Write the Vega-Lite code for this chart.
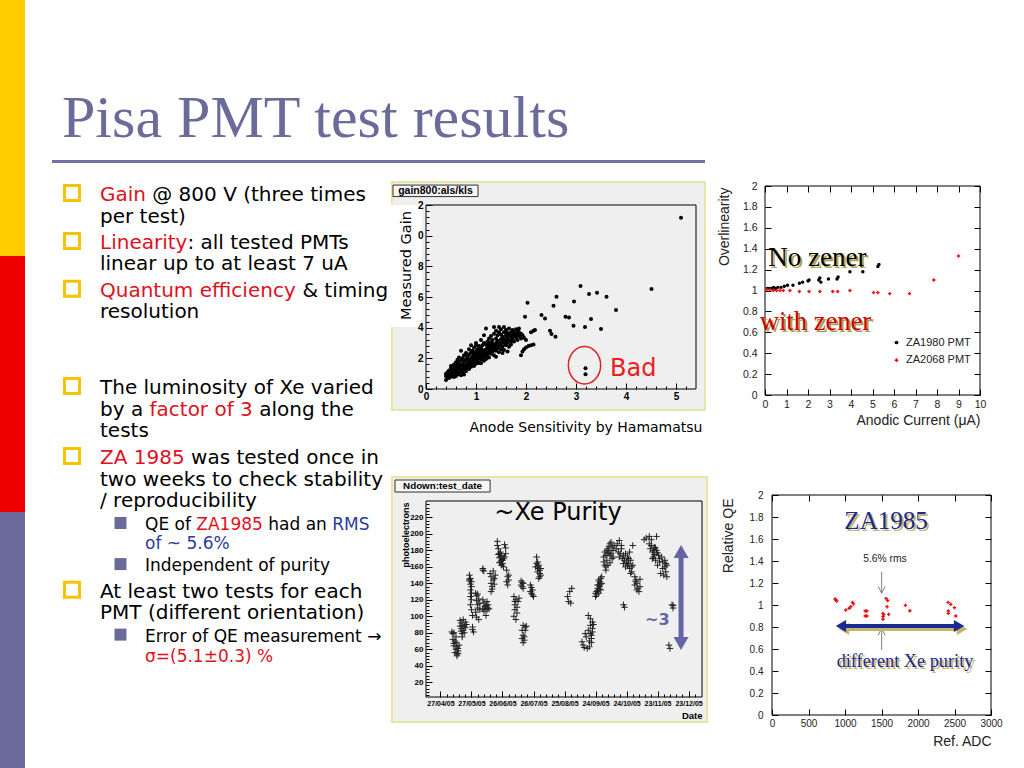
{
"$schema":"https://vega.github.io/schema/vega-lite/v6.json",
"width":1024,"height":768,"padding":0,"autosize":{"type":"none"},"background":"#ffffff",
"config":{"view":{"stroke":null},"axis":{"grid":false,"domain":false}},
"datasets":{
"bar":[{"band":"a"},{"band":"b"},{"band":"c"}],
"lines":[
{"line":0,"indent":0,"tone":"accent","part":"0","text":"Gain"},
{"line":1.01,"indent":0,"tone":"plain","part":"0","text":"per test)"},
{"line":2.23,"indent":0,"tone":"accent","part":"0","text":"Linearity"},
{"line":3.21,"indent":0,"tone":"plain","part":"0","text":"linear up to at least 7 uA"},
{"line":4.45,"indent":0,"tone":"accent","part":"0","text":"Quantum efficiency"},
{"line":5.43,"indent":0,"tone":"plain","part":"0","text":"resolution"},
{"line":8.98,"indent":0,"tone":"plain","part":"0","text":"The luminosity of Xe varied"},
{"line":10.0,"indent":0,"tone":"plain","part":"0","text":"by a"},
{"line":11.0,"indent":0,"tone":"plain","part":"0","text":"tests"},
{"line":12.23,"indent":0,"tone":"accent","part":"0","text":"ZA 1985"},
{"line":13.26,"indent":0,"tone":"plain","part":"0","text":"two weeks to check stability"},
{"line":14.23,"indent":0,"tone":"plain","part":"0","text":"/ reproducibility"},
{"line":15.35,"indent":1,"tone":"plain","part":"0","text":"QE of"},
{"line":16.23,"indent":1,"tone":"note","part":"0","text":"of ~ 5.6%"},
{"line":17.26,"indent":1,"tone":"plain","part":"0","text":"Independent of purity"},
{"line":18.45,"indent":0,"tone":"plain","part":"0","text":"At least two tests for each"},
{"line":19.42,"indent":0,"tone":"plain","part":"0","text":"PMT (different orientation)"},
{"line":20.54,"indent":1,"tone":"plain","part":"0","text":"Error of QE measurement →"},
{"line":21.47,"indent":1,"tone":"accent","part":"0","text":"σ=(5.1±0.3) %"},
{"line":0,"indent":0,"tone":"plain","part":"b","text":"@ 800 V (three times"},
{"line":2.23,"indent":0,"tone":"plain","part":"c","text":": all tested PMTs"},
{"line":4.45,"indent":0,"tone":"plain","part":"d","text":"& timing"},
{"line":10.0,"indent":0,"tone":"accent","part":"e","text":"factor of 3"},
{"line":10.0,"indent":0,"tone":"plain","part":"f","text":"along the"},
{"line":12.23,"indent":0,"tone":"plain","part":"g","text":"was tested once in"},
{"line":15.35,"indent":1,"tone":"accent","part":"h","text":"ZA1985"},
{"line":15.35,"indent":1,"tone":"plain","part":"i","text":"had an"},
{"line":15.35,"indent":1,"tone":"note","part":"j","text":"RMS"}
],
"bullets":[
{"line":0,"indent":0},{"line":2.23,"indent":0},{"line":4.45,"indent":0},{"line":8.98,"indent":0},{"line":12.23,"indent":0},{"line":18.45,"indent":0},
{"line":15.35,"indent":1},{"line":17.26,"indent":1},{"line":20.54,"indent":1}
],
"gain":[
{"sens":0.40,"gain":0.58},{"sens":0.40,"gain":0.85},{"sens":0.40,"gain":1.0},
{"sens":0.43,"gain":0.75},{"sens":0.43,"gain":1.1},{"sens":0.43,"gain":0.9},
{"sens":0.46,"gain":1.2},{"sens":0.46,"gain":0.95},{"sens":0.46,"gain":0.72},
{"sens":0.50,"gain":1.35},{"sens":0.50,"gain":1.05},{"sens":0.50,"gain":0.8},{"sens":0.50,"gain":1.5},
{"sens":0.53,"gain":1.15},{"sens":0.53,"gain":0.9},{"sens":0.53,"gain":1.4},
{"sens":0.56,"gain":1.0},{"sens":0.56,"gain":1.3},{"sens":0.56,"gain":1.6},{"sens":0.56,"gain":0.78},
{"sens":0.60,"gain":1.45},{"sens":0.60,"gain":1.2},{"sens":0.60,"gain":0.85},{"sens":0.60,"gain":1.75},{"sens":0.60,"gain":1.05},
{"sens":0.63,"gain":1.3},{"sens":0.63,"gain":1.55},{"sens":0.63,"gain":0.95},{"sens":0.63,"gain":1.9},
{"sens":0.66,"gain":1.1},{"sens":0.66,"gain":1.4},{"sens":0.66,"gain":1.7},{"sens":0.66,"gain":2.05},
{"sens":0.70,"gain":1.25},{"sens":0.70,"gain":1.55},{"sens":0.70,"gain":0.9},{"sens":0.70,"gain":1.85},{"sens":0.70,"gain":2.5},
{"sens":0.73,"gain":1.35},{"sens":0.73,"gain":1.6},{"sens":0.73,"gain":1.1},{"sens":0.73,"gain":2.0},
{"sens":0.76,"gain":1.5},{"sens":0.76,"gain":1.2},{"sens":0.76,"gain":1.8},{"sens":0.76,"gain":2.2},{"sens":0.76,"gain":0.95},
{"sens":0.80,"gain":1.6},{"sens":0.80,"gain":1.35},{"sens":0.80,"gain":1.95},{"sens":0.80,"gain":2.35},{"sens":0.80,"gain":1.15},
{"sens":0.83,"gain":1.7},{"sens":0.83,"gain":1.45},{"sens":0.83,"gain":2.1},{"sens":0.83,"gain":1.9},
{"sens":0.86,"gain":1.55},{"sens":0.86,"gain":1.85},{"sens":0.86,"gain":2.25},{"sens":0.86,"gain":2.6},{"sens":0.86,"gain":1.3},
{"sens":0.90,"gain":1.7},{"sens":0.90,"gain":2.0},{"sens":0.90,"gain":2.4},{"sens":0.90,"gain":1.45},{"sens":0.90,"gain":2.85},
{"sens":0.93,"gain":1.9},{"sens":0.93,"gain":2.15},{"sens":0.93,"gain":1.6},{"sens":0.93,"gain":2.5},
{"sens":0.96,"gain":2.05},{"sens":0.96,"gain":1.75},{"sens":0.96,"gain":2.3},{"sens":0.96,"gain":2.7},{"sens":0.96,"gain":1.5},
{"sens":1.00,"gain":1.9},{"sens":1.00,"gain":2.2},{"sens":1.00,"gain":2.45},{"sens":1.00,"gain":1.65},{"sens":1.00,"gain":2.85},{"sens":1.00,"gain":3.0},
{"sens":1.03,"gain":2.1},{"sens":1.03,"gain":2.35},{"sens":1.03,"gain":1.8},{"sens":1.03,"gain":2.6},
{"sens":1.06,"gain":2.0},{"sens":1.06,"gain":2.25},{"sens":1.06,"gain":2.5},{"sens":1.06,"gain":1.7},{"sens":1.06,"gain":2.8},
{"sens":1.10,"gain":2.15},{"sens":1.10,"gain":2.4},{"sens":1.10,"gain":1.9},{"sens":1.10,"gain":2.65},{"sens":1.10,"gain":3.2},{"sens":1.10,"gain":1.68},
{"sens":1.13,"gain":2.3},{"sens":1.13,"gain":2.55},{"sens":1.13,"gain":2.05},{"sens":1.13,"gain":2.85},
{"sens":1.16,"gain":2.2},{"sens":1.16,"gain":2.45},{"sens":1.16,"gain":3.0},{"sens":1.16,"gain":1.85},{"sens":1.16,"gain":3.5},
{"sens":1.20,"gain":2.35},{"sens":1.20,"gain":2.6},{"sens":1.20,"gain":2.1},{"sens":1.20,"gain":2.9},{"sens":1.20,"gain":3.95},{"sens":1.20,"gain":1.95},
{"sens":1.23,"gain":2.5},{"sens":1.23,"gain":2.75},{"sens":1.23,"gain":2.25},{"sens":1.23,"gain":3.1},
{"sens":1.26,"gain":2.4},{"sens":1.26,"gain":2.65},{"sens":1.26,"gain":2.9},{"sens":1.26,"gain":3.3},{"sens":1.26,"gain":2.05},
{"sens":1.30,"gain":2.55},{"sens":1.30,"gain":2.8},{"sens":1.30,"gain":3.05},{"sens":1.30,"gain":2.3},{"sens":1.30,"gain":3.45},
{"sens":1.33,"gain":2.7},{"sens":1.33,"gain":2.45},{"sens":1.33,"gain":3.2},{"sens":1.33,"gain":2.95},
{"sens":1.36,"gain":2.6},{"sens":1.36,"gain":2.85},{"sens":1.36,"gain":3.6},{"sens":1.36,"gain":4.05},{"sens":1.36,"gain":2.2},
{"sens":1.40,"gain":2.75},{"sens":1.40,"gain":3.0},{"sens":1.40,"gain":3.3},{"sens":1.40,"gain":2.5},{"sens":1.40,"gain":3.8},{"sens":1.40,"gain":2.1},
{"sens":1.43,"gain":2.9},{"sens":1.43,"gain":3.15},{"sens":1.43,"gain":2.65},{"sens":1.43,"gain":3.5},
{"sens":1.46,"gain":2.8},{"sens":1.46,"gain":3.05},{"sens":1.46,"gain":3.7},{"sens":1.46,"gain":4.05},{"sens":1.46,"gain":2.4},
{"sens":1.50,"gain":2.95},{"sens":1.50,"gain":3.25},{"sens":1.50,"gain":2.6},{"sens":1.50,"gain":3.55},{"sens":1.50,"gain":3.9},
{"sens":1.53,"gain":3.1},{"sens":1.53,"gain":2.75},{"sens":1.53,"gain":3.4},{"sens":1.53,"gain":2.35},
{"sens":1.56,"gain":3.0},{"sens":1.56,"gain":3.3},{"sens":1.56,"gain":3.7},{"sens":1.56,"gain":4.05},{"sens":1.56,"gain":2.55},
{"sens":1.60,"gain":3.15},{"sens":1.60,"gain":2.85},{"sens":1.60,"gain":3.5},{"sens":1.60,"gain":3.85},
{"sens":1.63,"gain":3.35},{"sens":1.63,"gain":3.0},{"sens":1.63,"gain":3.65},{"sens":1.63,"gain":2.45},
{"sens":1.66,"gain":3.2},{"sens":1.66,"gain":3.55},{"sens":1.66,"gain":2.75},{"sens":1.66,"gain":3.95},
{"sens":1.70,"gain":3.4},{"sens":1.70,"gain":3.7},{"sens":1.70,"gain":3.1},{"sens":1.70,"gain":2.9},
{"sens":1.73,"gain":3.55},{"sens":1.73,"gain":3.25},{"sens":1.73,"gain":3.85},
{"sens":1.76,"gain":3.45},{"sens":1.76,"gain":3.7},{"sens":1.76,"gain":3.1},
{"sens":1.80,"gain":3.6},{"sens":1.80,"gain":3.35},{"sens":1.80,"gain":3.9},
{"sens":1.83,"gain":3.5},{"sens":1.83,"gain":3.8},{"sens":1.83,"gain":3.2},
{"sens":1.86,"gain":3.7},{"sens":1.86,"gain":3.45},{"sens":1.86,"gain":3.95},
{"sens":1.90,"gain":3.6},{"sens":1.90,"gain":3.3},{"sens":1.90,"gain":2.2},
{"sens":1.93,"gain":3.5},{"sens":1.93,"gain":2.45},
{"sens":1.96,"gain":3.35},{"sens":1.96,"gain":2.6},
{"sens":2.00,"gain":2.7},{"sens":2.00,"gain":3.2},
{"sens":2.05,"gain":2.8},
{"sens":2.10,"gain":3.7},{"sens":2.10,"gain":2.85},
{"sens":2.15,"gain":3.8},{"sens":2.15,"gain":2.9},
{"sens":2.18,"gain":3.85},
{"sens":2.03,"gain":5.63},{"sens":1.98,"gain":4.72},{"sens":2.31,"gain":4.83},{"sens":2.38,"gain":4.6},{"sens":2.48,"gain":3.8},{"sens":2.51,"gain":3.59},{"sens":2.59,"gain":3.41},{"sens":2.55,"gain":5.43},{"sens":2.61,"gain":6.02},{"sens":2.79,"gain":4.72},{"sens":2.86,"gain":4.67},{"sens":2.95,"gain":4.13},{"sens":2.96,"gain":5.7},{"sens":3.09,"gain":6.72},{"sens":3.18,"gain":4.04},{"sens":3.26,"gain":6.2},{"sens":3.3,"gain":4.57},{"sens":3.42,"gain":6.28},{"sens":3.5,"gain":3.91},{"sens":3.61,"gain":6.02},{"sens":3.8,"gain":5.15},{"sens":4.51,"gain":6.52},{"sens":5.1,"gain":11.17},{"sens":3.19,"gain":1.35},{"sens":3.19,"gain":0.96}
],
"xe":[
{"date":"2005-05-08","pe":81},{"date":"2005-05-09","pe":79},{"date":"2005-05-10","pe":80},{"date":"2005-05-09","pe":72},{"date":"2005-05-11","pe":70},{"date":"2005-05-10","pe":67},{"date":"2005-05-12","pe":75},{"date":"2005-05-13","pe":63},{"date":"2005-05-12","pe":60},{"date":"2005-05-14","pe":61},{"date":"2005-05-11","pe":56},{"date":"2005-05-13","pe":54},{"date":"2005-05-14","pe":58},{"date":"2005-05-15","pe":65},{"date":"2005-05-12","pe":68},{"date":"2005-05-10","pe":64},{"date":"2005-05-13","pe":52},{"date":"2005-05-14","pe":55},
{"date":"2005-05-16","pe":95},{"date":"2005-05-17","pe":92},{"date":"2005-05-18","pe":89},{"date":"2005-05-17","pe":85},{"date":"2005-05-19","pe":83},{"date":"2005-05-18","pe":79},{"date":"2005-05-20","pe":88},{"date":"2005-05-21","pe":93},{"date":"2005-05-16","pe":88},{"date":"2005-05-19","pe":96},{"date":"2005-05-20","pe":80},{"date":"2005-05-21","pe":86},{"date":"2005-05-22","pe":90},{"date":"2005-05-18","pe":75},{"date":"2005-05-17","pe":82},
{"date":"2005-05-25","pe":150},{"date":"2005-05-26","pe":146},{"date":"2005-05-25","pe":143},{"date":"2005-05-26","pe":139},{"date":"2005-05-27","pe":136},{"date":"2005-05-26","pe":132},{"date":"2005-05-27","pe":128},{"date":"2005-05-26","pe":124},{"date":"2005-05-27","pe":120},{"date":"2005-05-26","pe":114},{"date":"2005-05-27","pe":108},{"date":"2005-05-28","pe":101},{"date":"2005-05-28","pe":87},{"date":"2005-05-29","pe":81},{"date":"2005-05-28","pe":84},{"date":"2005-05-25","pe":145},{"date":"2005-05-27","pe":142},
{"date":"2005-05-31","pe":128},{"date":"2005-06-01","pe":125},{"date":"2005-06-02","pe":127},{"date":"2005-06-01","pe":119},{"date":"2005-06-03","pe":121},{"date":"2005-06-02","pe":114},{"date":"2005-06-04","pe":108},{"date":"2005-05-31","pe":105},{"date":"2005-06-01","pe":99},{"date":"2005-06-03","pe":96},{"date":"2005-06-02","pe":110},{"date":"2005-06-04","pe":116},
{"date":"2005-06-07","pe":120},{"date":"2005-06-08","pe":116},{"date":"2005-06-10","pe":113},{"date":"2005-06-09","pe":110},{"date":"2005-06-11","pe":108},{"date":"2005-06-12","pe":114},{"date":"2005-06-08","pe":106},{"date":"2005-06-10","pe":101},{"date":"2005-06-12","pe":110},{"date":"2005-06-11","pe":118},{"date":"2005-06-09","pe":112},{"date":"2005-06-13","pe":109},{"date":"2005-06-07","pe":109},
{"date":"2005-06-07","pe":158},{"date":"2005-06-08","pe":155},{"date":"2005-06-07","pe":156},
{"date":"2005-06-14","pe":152},{"date":"2005-06-15","pe":148},{"date":"2005-06-17","pe":144},{"date":"2005-06-15","pe":140},{"date":"2005-06-16","pe":136},{"date":"2005-06-18","pe":146},{"date":"2005-06-15","pe":130},{"date":"2005-06-19","pe":150},{"date":"2005-06-17","pe":155},{"date":"2005-06-16","pe":133},{"date":"2005-06-18","pe":139},
{"date":"2005-06-21","pe":191},{"date":"2005-06-21","pe":186},{"date":"2005-06-22","pe":182},{"date":"2005-06-23","pe":176},{"date":"2005-06-24","pe":172},{"date":"2005-06-23","pe":171},{"date":"2005-06-25","pe":168},{"date":"2005-06-24","pe":166},{"date":"2005-06-26","pe":164},{"date":"2005-06-25","pe":162},{"date":"2005-06-22","pe":175},{"date":"2005-06-27","pe":170},{"date":"2005-06-28","pe":187},{"date":"2005-06-29","pe":183},{"date":"2005-06-29","pe":176},{"date":"2005-06-27","pe":160},{"date":"2005-06-24","pe":178},{"date":"2005-06-26","pe":168},{"date":"2005-06-23","pe":165},{"date":"2005-06-25","pe":174},{"date":"2005-06-28","pe":172},
{"date":"2005-06-30","pe":156},{"date":"2005-07-01","pe":148},{"date":"2005-06-30","pe":142},{"date":"2005-07-02","pe":144},{"date":"2005-07-01","pe":138},{"date":"2005-07-02","pe":150},
{"date":"2005-07-07","pe":124},{"date":"2005-07-09","pe":120},{"date":"2005-07-08","pe":114},{"date":"2005-07-08","pe":108},{"date":"2005-07-10","pe":104},{"date":"2005-07-07","pe":100},{"date":"2005-07-09","pe":96},{"date":"2005-07-11","pe":118},{"date":"2005-07-12","pe":122},{"date":"2005-07-10","pe":111},{"date":"2005-07-08","pe":118},
{"date":"2005-07-14","pe":143},{"date":"2005-07-16","pe":140},{"date":"2005-07-15","pe":136},{"date":"2005-07-14","pe":138},{"date":"2005-07-15","pe":141},{"date":"2005-07-16","pe":134},
{"date":"2005-07-16","pe":89},{"date":"2005-07-18","pe":87},{"date":"2005-07-15","pe":83},{"date":"2005-07-18","pe":83},{"date":"2005-07-16","pe":77},{"date":"2005-07-15","pe":73},{"date":"2005-07-17","pe":71},{"date":"2005-07-16","pe":68},{"date":"2005-07-19","pe":88},{"date":"2005-07-17","pe":75},
{"date":"2005-07-23","pe":138},{"date":"2005-07-25","pe":132},{"date":"2005-07-24","pe":128},{"date":"2005-07-26","pe":124},{"date":"2005-07-23","pe":130},{"date":"2005-07-24","pe":135},{"date":"2005-07-25","pe":126},
{"date":"2005-07-29","pe":172},{"date":"2005-07-30","pe":166},{"date":"2005-07-31","pe":162},{"date":"2005-07-31","pe":158},{"date":"2005-08-01","pe":156},{"date":"2005-07-30","pe":154},{"date":"2005-08-02","pe":150},{"date":"2005-07-31","pe":146},{"date":"2005-07-28","pe":160},{"date":"2005-08-01","pe":152},{"date":"2005-07-29","pe":164},{"date":"2005-08-02","pe":158},{"date":"2005-07-30","pe":160},{"date":"2005-08-01","pe":148},
{"date":"2005-08-28","pe":124},{"date":"2005-08-30","pe":130},{"date":"2005-09-01","pe":134},{"date":"2005-08-29","pe":118},{"date":"2005-08-31","pe":116},
{"date":"2005-09-11","pe":69},{"date":"2005-09-12","pe":65},{"date":"2005-09-13","pe":62},{"date":"2005-09-16","pe":61},{"date":"2005-09-18","pe":63},{"date":"2005-09-17","pe":83},{"date":"2005-09-19","pe":89},{"date":"2005-09-19","pe":97},{"date":"2005-09-21","pe":93},{"date":"2005-09-21","pe":85},{"date":"2005-09-19","pe":79},{"date":"2005-09-20","pe":73},{"date":"2005-09-17","pe":101},{"date":"2005-09-20","pe":77},{"date":"2005-09-15","pe":75},{"date":"2005-09-14","pe":79},{"date":"2005-09-18","pe":70},{"date":"2005-09-20","pe":68},{"date":"2005-09-21","pe":81},{"date":"2005-09-22","pe":90},
{"date":"2005-09-24","pe":124},{"date":"2005-09-25","pe":130},{"date":"2005-09-26","pe":134},{"date":"2005-09-27","pe":138},{"date":"2005-09-28","pe":142},{"date":"2005-09-29","pe":146},{"date":"2005-09-30","pe":148},{"date":"2005-09-25","pe":126},{"date":"2005-09-27","pe":128},{"date":"2005-09-28","pe":136},{"date":"2005-09-26","pe":138},{"date":"2005-09-30","pe":140},{"date":"2005-09-27","pe":144},{"date":"2005-09-29","pe":132},{"date":"2005-09-24","pe":128},{"date":"2005-09-26","pe":131},{"date":"2005-09-28","pe":133},{"date":"2005-09-29","pe":139},
{"date":"2005-10-02","pe":166},{"date":"2005-10-03","pe":162},{"date":"2005-10-04","pe":156},{"date":"2005-10-04","pe":174},{"date":"2005-10-06","pe":182},{"date":"2005-10-08","pe":188},{"date":"2005-10-09","pe":190},{"date":"2005-10-07","pe":178},{"date":"2005-10-10","pe":184},{"date":"2005-10-05","pe":168},{"date":"2005-10-08","pe":174},{"date":"2005-10-03","pe":178},{"date":"2005-10-11","pe":180},{"date":"2005-10-06","pe":162},{"date":"2005-10-09","pe":176},{"date":"2005-10-12","pe":186},{"date":"2005-10-02","pe":172},{"date":"2005-10-04","pe":160},{"date":"2005-10-07","pe":185},{"date":"2005-10-10","pe":170},{"date":"2005-10-05","pe":180},{"date":"2005-10-08","pe":165},{"date":"2005-10-11","pe":172},{"date":"2005-10-06","pe":176},
{"date":"2005-10-14","pe":182},{"date":"2005-10-16","pe":178},{"date":"2005-10-17","pe":192},{"date":"2005-10-19","pe":182},{"date":"2005-10-21","pe":174},{"date":"2005-10-22","pe":168},{"date":"2005-10-24","pe":166},{"date":"2005-10-25","pe":162},{"date":"2005-10-27","pe":158},{"date":"2005-10-29","pe":154},{"date":"2005-10-28","pe":168},{"date":"2005-10-27","pe":178},{"date":"2005-10-23","pe":176},{"date":"2005-10-25","pe":172},{"date":"2005-10-30","pe":186},{"date":"2005-10-21","pe":164},{"date":"2005-10-17","pe":172},{"date":"2005-10-19","pe":186},{"date":"2005-10-26","pe":164},{"date":"2005-10-29","pe":160},{"date":"2005-10-30","pe":162},{"date":"2005-10-15","pe":188},{"date":"2005-10-18","pe":176},{"date":"2005-10-20","pe":170},{"date":"2005-10-23","pe":160},{"date":"2005-10-26","pe":170},{"date":"2005-10-28","pe":152},
{"date":"2005-10-21","pe":114},{"date":"2005-10-22","pe":111},
{"date":"2005-11-01","pe":148},{"date":"2005-11-02","pe":144},{"date":"2005-11-01","pe":138},{"date":"2005-11-03","pe":140},{"date":"2005-11-04","pe":134},{"date":"2005-11-03","pe":132},{"date":"2005-11-05","pe":130},{"date":"2005-11-02","pe":142},{"date":"2005-11-06","pe":136},{"date":"2005-11-06","pe":145},
{"date":"2005-11-10","pe":193},{"date":"2005-11-12","pe":195},{"date":"2005-11-15","pe":197},{"date":"2005-11-17","pe":193},{"date":"2005-11-22","pe":197},{"date":"2005-11-16","pe":182},{"date":"2005-11-18","pe":178},{"date":"2005-11-20","pe":184},{"date":"2005-11-22","pe":180},{"date":"2005-11-19","pe":172},{"date":"2005-11-24","pe":174},{"date":"2005-11-21","pe":168},{"date":"2005-11-25","pe":166},{"date":"2005-11-25","pe":170},{"date":"2005-11-23","pe":162},{"date":"2005-11-15","pe":188},{"date":"2005-11-17","pe":186},{"date":"2005-11-19","pe":180},{"date":"2005-11-21","pe":183},{"date":"2005-11-23","pe":177},{"date":"2005-11-20","pe":175},{"date":"2005-11-18","pe":170},
{"date":"2005-11-27","pe":172},{"date":"2005-11-28","pe":166},{"date":"2005-11-30","pe":160},{"date":"2005-12-01","pe":154},{"date":"2005-11-29","pe":150},{"date":"2005-12-02","pe":148},{"date":"2005-11-28","pe":158},{"date":"2005-12-02","pe":162},{"date":"2005-11-26","pe":152},{"date":"2005-11-30","pe":168},{"date":"2005-12-01","pe":164},
{"date":"2005-12-07","pe":114},{"date":"2005-12-08","pe":110},{"date":"2005-12-08","pe":113},
{"date":"2005-12-04","pe":65},{"date":"2005-12-05","pe":61}
],
"zener":[
{"current":0.1,"ratio":1.02,"pmt":"ZA1980 PMT"},{"current":0.2,"ratio":1.02,"pmt":"ZA1980 PMT"},{"current":0.3,"ratio":1.02,"pmt":"ZA1980 PMT"},{"current":0.4,"ratio":1.03,"pmt":"ZA1980 PMT"},{"current":0.5,"ratio":1.02,"pmt":"ZA1980 PMT"},{"current":0.6,"ratio":1.03,"pmt":"ZA1980 PMT"},{"current":0.75,"ratio":1.03,"pmt":"ZA1980 PMT"},{"current":0.9,"ratio":1.04,"pmt":"ZA1980 PMT"},{"current":1.05,"ratio":1.05,"pmt":"ZA1980 PMT"},{"current":1.3,"ratio":1.05,"pmt":"ZA1980 PMT"},{"current":1.6,"ratio":1.07,"pmt":"ZA1980 PMT"},{"current":1.75,"ratio":1.08,"pmt":"ZA1980 PMT"},{"current":2.0,"ratio":1.09,"pmt":"ZA1980 PMT"},{"current":2.05,"ratio":1.1,"pmt":"ZA1980 PMT"},{"current":2.5,"ratio":1.1,"pmt":"ZA1980 PMT"},{"current":2.55,"ratio":1.12,"pmt":"ZA1980 PMT"},{"current":2.6,"ratio":1.08,"pmt":"ZA1980 PMT"},{"current":2.95,"ratio":1.11,"pmt":"ZA1980 PMT"},{"current":3.35,"ratio":1.11,"pmt":"ZA1980 PMT"},{"current":3.4,"ratio":1.13,"pmt":"ZA1980 PMT"},{"current":3.95,"ratio":1.18,"pmt":"ZA1980 PMT"},{"current":4.5,"ratio":1.24,"pmt":"ZA1980 PMT"},{"current":4.55,"ratio":1.18,"pmt":"ZA1980 PMT"},{"current":5.25,"ratio":1.23,"pmt":"ZA1980 PMT"},{"current":5.3,"ratio":1.25,"pmt":"ZA1980 PMT"},
{"current":0.08,"ratio":1.01,"pmt":"ZA2068 PMT"},{"current":0.23,"ratio":1.01,"pmt":"ZA2068 PMT"},{"current":0.39,"ratio":1.0,"pmt":"ZA2068 PMT"},{"current":0.54,"ratio":1.0,"pmt":"ZA2068 PMT"},{"current":0.7,"ratio":1.0,"pmt":"ZA2068 PMT"},{"current":0.85,"ratio":1.0,"pmt":"ZA2068 PMT"},{"current":1.16,"ratio":1.0,"pmt":"ZA2068 PMT"},{"current":1.6,"ratio":0.99,"pmt":"ZA2068 PMT"},{"current":2.05,"ratio":0.99,"pmt":"ZA2068 PMT"},{"current":2.55,"ratio":0.99,"pmt":"ZA2068 PMT"},{"current":3.15,"ratio":0.99,"pmt":"ZA2068 PMT"},{"current":3.38,"ratio":0.99,"pmt":"ZA2068 PMT"},{"current":3.95,"ratio":1.0,"pmt":"ZA2068 PMT"},{"current":5.05,"ratio":0.98,"pmt":"ZA2068 PMT"},{"current":5.25,"ratio":0.98,"pmt":"ZA2068 PMT"},{"current":5.8,"ratio":0.97,"pmt":"ZA2068 PMT"},{"current":6.72,"ratio":0.97,"pmt":"ZA2068 PMT"},{"current":7.85,"ratio":1.1,"pmt":"ZA2068 PMT"},{"current":9.0,"ratio":1.33,"pmt":"ZA2068 PMT"}
],
"qe":[
{"adc":864,"relqe":1.055},{"adc":887,"relqe":1.036},{"adc":875,"relqe":1.045},{"adc":1011,"relqe":0.955},{"adc":1057,"relqe":0.97},{"adc":1080,"relqe":0.985},{"adc":1103,"relqe":1.024},{"adc":1116,"relqe":1.01},{"adc":1277,"relqe":0.945},{"adc":1300,"relqe":0.945},{"adc":1277,"relqe":0.9},{"adc":1300,"relqe":0.9},{"adc":1521,"relqe":0.924},{"adc":1521,"relqe":0.894},{"adc":1521,"relqe":0.87},{"adc":1530,"relqe":0.91},{"adc":1562,"relqe":1.06},{"adc":1585,"relqe":1.04},{"adc":1576,"relqe":0.985},{"adc":1599,"relqe":0.915},{"adc":1828,"relqe":0.997},{"adc":1888,"relqe":0.948},{"adc":2412,"relqe":1.024},{"adc":2449,"relqe":1.006},{"adc":2416,"relqe":0.945},{"adc":2416,"relqe":0.924},{"adc":2499,"relqe":0.976},{"adc":2518,"relqe":0.9}
]
},
"resolve":{"scale":{"x":"independent","y":"independent","color":"independent","size":"independent","shape":"independent"},"axis":{"x":"independent","y":"independent"}},
"layer":[
{"data":{"name":"bar"},"mark":{"type":"rect"},"encoding":{"x":{"datum":0,"type":"quantitative","scale":{"domain":[0,1],"range":[0,25],"nice":false,"zero":false},"axis":null},"x2":{"datum":1},"y":{"field":"band","type":"nominal","scale":{"domain":["a","b","c"],"range":[0,768],"paddingInner":0,"paddingOuter":0},"axis":null},"color":{"field":"band","type":"nominal","scale":{"domain":["a","b","c"],"range":["#ffcc00","#ee0000","#6b6b9b"]},"legend":null}}},
{"data":{"values":[{"label":"Pisa PMT test results"}]},"mark":{"type":"text","font":"Liberation Serif","fontSize":60,"color":"#6b6b9b","align":"left","baseline":"alphabetic"},"encoding":{"x":{"datum":-0.8444,"type":"quantitative","scale":{"domain":[0,1],"range":[100,145],"nice":false,"zero":false},"axis":null},"y":{"datum":-2.698,"type":"quantitative","scale":{"domain":[-9.0698,26.6512],"range":[0,768],"nice":false,"zero":false},"axis":null},"text":{"field":"label"}}},
{"data":{"values":[{}]},"mark":{"type":"rule","color":"#7272a2","strokeWidth":3},"encoding":{"x":{"datum":-1.0667,"type":"quantitative","scale":{"domain":[0,1],"range":[100,145],"nice":false,"zero":false},"axis":null},"x2":{"datum":13.4444},"y":{"datum":-1.558,"type":"quantitative","scale":{"domain":[-9.0698,26.6512],"range":[0,768],"nice":false,"zero":false},"axis":null}}},
{"data":{"name":"bullets"},"transform":[{"filter":"datum.indent == 0"}],"mark":{"type":"point","shape":"square","filled":false,"color":"#f5c400","strokeWidth":3,"size":225,"opacity":1},"encoding":{"x":{"field":"indent","type":"quantitative","scale":{"domain":[0,1],"range":[72,120.5],"nice":false,"zero":false},"axis":null},"y":{"field":"line","type":"quantitative","scale":{"domain":[-9.0698,26.6512],"range":[-2,766],"nice":false,"zero":false},"axis":null}}},
{"data":{"name":"bullets"},"transform":[{"filter":"datum.indent == 1"}],"mark":{"type":"point","shape":"square","filled":true,"color":"#6b6b9b","size":144,"opacity":1},"encoding":{"x":{"field":"indent","type":"quantitative","scale":{"domain":[0,1],"range":[72,120.5],"nice":false,"zero":false},"axis":null},"y":{"field":"line","type":"quantitative","scale":{"domain":[-9.0698,26.6512],"range":[-2,766],"nice":false,"zero":false},"axis":null}}},
{"layer":[
 {"transform":[{"filter":"datum.part == '0'"}],"mark":{"type":"text","align":"left","baseline":"middle","font":"DejaVu Sans"},"encoding":{"x":{"field":"indent","type":"quantitative","scale":{"domain":[0,1],"range":[100,145],"nice":false,"zero":false},"axis":null},"y":{"field":"line","type":"quantitative","scale":{"domain":[-9.0698,26.6512],"range":[0,768],"nice":false,"zero":false},"axis":null},"text":{"field":"text"},"color":{"field":"tone","type":"nominal","scale":{"domain":["plain","accent","note"],"range":["#000000","#e01020","#2b3a9e"]},"legend":null},"size":{"field":"indent","type":"quantitative","scale":{"domain":[0,1],"range":[20,17]},"legend":null}}},
 {"transform":[{"filter":"datum.part == 'b'"}],"mark":{"type":"text","align":"left","baseline":"middle","font":"DejaVu Sans","dx":52.25},"encoding":{"x":{"field":"indent","type":"quantitative","axis":null},"y":{"field":"line","type":"quantitative","axis":null},"text":{"field":"text"},"color":{"field":"tone","type":"nominal","legend":null},"size":{"field":"indent","type":"quantitative","legend":null}}},
 {"transform":[{"filter":"datum.part == 'c'"}],"mark":{"type":"text","align":"left","baseline":"middle","font":"DejaVu Sans","dx":87.39},"encoding":{"x":{"field":"indent","type":"quantitative","axis":null},"y":{"field":"line","type":"quantitative","axis":null},"text":{"field":"text"},"color":{"field":"tone","type":"nominal","legend":null},"size":{"field":"indent","type":"quantitative","legend":null}}},
 {"transform":[{"filter":"datum.part == 'd'"}],"mark":{"type":"text","align":"left","baseline":"middle","font":"DejaVu Sans","dx":202.38},"encoding":{"x":{"field":"indent","type":"quantitative","axis":null},"y":{"field":"line","type":"quantitative","axis":null},"text":{"field":"text"},"color":{"field":"tone","type":"nominal","legend":null},"size":{"field":"indent","type":"quantitative","legend":null}}},
 {"transform":[{"filter":"datum.part == 'e'"}],"mark":{"type":"text","align":"left","baseline":"middle","font":"DejaVu Sans","dx":49.5},"encoding":{"x":{"field":"indent","type":"quantitative","axis":null},"y":{"field":"line","type":"quantitative","axis":null},"text":{"field":"text"},"color":{"field":"tone","type":"nominal","legend":null},"size":{"field":"indent","type":"quantitative","legend":null}}},
 {"transform":[{"filter":"datum.part == 'f'"}],"mark":{"type":"text","align":"left","baseline":"middle","font":"DejaVu Sans","dx":159.17},"encoding":{"x":{"field":"indent","type":"quantitative","axis":null},"y":{"field":"line","type":"quantitative","axis":null},"text":{"field":"text"},"color":{"field":"tone","type":"nominal","legend":null},"size":{"field":"indent","type":"quantitative","legend":null}}},
 {"transform":[{"filter":"datum.part == 'g'"}],"mark":{"type":"text","align":"left","baseline":"middle","font":"DejaVu Sans","dx":91.02},"encoding":{"x":{"field":"indent","type":"quantitative","axis":null},"y":{"field":"line","type":"quantitative","axis":null},"text":{"field":"text"},"color":{"field":"tone","type":"nominal","legend":null},"size":{"field":"indent","type":"quantitative","legend":null}}},
 {"transform":[{"filter":"datum.part == 'h'"}],"mark":{"type":"text","align":"left","baseline":"middle","font":"DejaVu Sans","dx":51.32},"encoding":{"x":{"field":"indent","type":"quantitative","axis":null},"y":{"field":"line","type":"quantitative","axis":null},"text":{"field":"text"},"color":{"field":"tone","type":"nominal","legend":null},"size":{"field":"indent","type":"quantitative","legend":null}}},
 {"transform":[{"filter":"datum.part == 'i'"}],"mark":{"type":"text","align":"left","baseline":"middle","font":"DejaVu Sans","dx":123.28},"encoding":{"x":{"field":"indent","type":"quantitative","axis":null},"y":{"field":"line","type":"quantitative","axis":null},"text":{"field":"text"},"color":{"field":"tone","type":"nominal","legend":null},"size":{"field":"indent","type":"quantitative","legend":null}}},
 {"transform":[{"filter":"datum.part == 'j'"}],"mark":{"type":"text","align":"left","baseline":"middle","font":"DejaVu Sans","dx":187.27},"encoding":{"x":{"field":"indent","type":"quantitative","axis":null},"y":{"field":"line","type":"quantitative","axis":null},"text":{"field":"text"},"color":{"field":"tone","type":"nominal","legend":null},"size":{"field":"indent","type":"quantitative","legend":null}}}
],"data":{"name":"lines"}},
{"layer":[
 {"data":{"values":[{}]},"mark":{"type":"rect","fill":"#efefef","stroke":"#ebe5a5","strokeWidth":2},"encoding":{"x":{"datum":-0.68,"type":"quantitative","scale":{"domain":[0,5.4],"range":[426,696],"nice":false,"zero":false},"axis":null},"x2":{"datum":5.58},"y":{"datum":13.5,"type":"quantitative","scale":{"domain":[0,12],"range":[389,205],"nice":false,"zero":false},"axis":null},"y2":{"datum":-1.37}}},
 {"data":{"values":[{}]},"mark":{"type":"rect","fill":"#ffffff"},"encoding":{"x":{"datum":-0.72,"type":"quantitative","axis":null},"x2":{"datum":-0.08},"y":{"datum":12.0,"type":"quantitative","axis":null},"y2":{"datum":4.04}}},
 {"data":{"values":[{}]},"mark":{"type":"rect","fill":"#f6f6f6","stroke":"#333333","strokeWidth":1},"encoding":{"x":{"datum":-0.66,"type":"quantitative","axis":null},"x2":{"datum":1.04},"y":{"datum":13.3,"type":"quantitative","axis":null},"y2":{"datum":12.55}}},
 {"data":{"values":[{"label":"gain800:als/kls"}]},"mark":{"type":"text","font":"Liberation Sans","fontWeight":"bold","fontSize":10.5,"align":"center","baseline":"middle","color":"#000000"},"encoding":{"x":{"datum":0.19,"type":"quantitative","axis":null},"y":{"datum":12.925,"type":"quantitative","axis":null},"text":{"field":"label"}}},
 {"data":{"values":[{}]},"mark":{"type":"rect","filled":false,"color":"#000000","strokeWidth":1},"encoding":{"x":{"datum":0,"type":"quantitative","axis":null},"x2":{"datum":5.4},"y":{"datum":0,"type":"quantitative","axis":null},"y2":{"datum":12}}},
 {"data":{"name":"gain"},"mark":{"type":"point","opacity":0},"encoding":{
   "x":{"field":"sens","type":"quantitative","axis":{"orient":"bottom","offset":-379,"zindex":1,"values":[0.2,0.4,0.6,0.8,1.2,1.4,1.6,1.8,2.2,2.4,2.6,2.8,3.2,3.4,3.6,3.8,4.2,4.4,4.6,4.8,5.2],"tickSize":-3,"tickColor":"#000000","labels":false,"title":null}},
   "y":{"field":"gain","type":"quantitative","axis":{"orient":"left","offset":-426,"zindex":1,"values":[0.4,0.8,1.2,1.6,2.4,2.8,3.2,3.6,4.4,4.8,5.2,5.6,6.4,6.8,7.2,7.6,8.4,8.8,9.2,9.6,10.4,10.8,11.2,11.6],"tickSize":-3,"tickColor":"#000000","labels":false,"title":null}}}},
 {"data":{"name":"gain"},"mark":{"type":"circle","color":"#000000","size":16,"opacity":1},"encoding":{
   "x":{"field":"sens","type":"quantitative","axis":{"orient":"bottom","offset":-379,"zindex":1,"values":[0,1,2,3,4,5],"tickSize":-6,"tickColor":"#000000","labelFont":"Liberation Sans","labelFontWeight":"bold","labelFontSize":10,"labelColor":"#000000","labelPadding":8,"labelFlush":false,"labelOverlap":false,"title":"Anode Sensitivity by Hamamatsu","titleFont":"DejaVu Sans","titleFontSize":14,"titleFontWeight":"normal","titleColor":"#000000","titleX":702,"titleY":38,"titleAlign":"right","titleBaseline":"middle","titleAngle":0}},
   "y":{"field":"gain","type":"quantitative","axis":{"orient":"left","offset":-426,"zindex":1,"values":[0,2,4,6,8,10,12],"labelExpr":"datum.value % 10","tickSize":-6,"tickColor":"#000000","labelFont":"Liberation Sans","labelFontWeight":"bold","labelFontSize":10,"labelColor":"#000000","labelPadding":9,"labelOverlap":false,"title":"Measured Gain","titleFont":"DejaVu Sans","titleFontSize":14.5,"titleFontWeight":"normal","titleColor":"#000000","titleX":-20,"titleY":265,"titleAngle":270,"titleAlign":"center","titleBaseline":"middle"}}}},
 {"data":{"values":[{}]},"mark":{"type":"point","shape":"M-1,0A1,1.155,0,1,0,1,0A1,1.155,0,1,0,-1,0Z","filled":false,"color":"#e02020","strokeWidth":1.5,"size":1043,"opacity":1},"encoding":{"x":{"datum":3.17,"type":"quantitative","axis":null},"y":{"datum":1.55,"type":"quantitative","axis":null}}},
 {"data":{"values":[{"label":"Bad"}]},"mark":{"type":"text","font":"DejaVu Sans","fontSize":24,"color":"#e82020","align":"left","baseline":"alphabetic"},"encoding":{"x":{"datum":3.68,"type":"quantitative","axis":null},"y":{"datum":0.85,"type":"quantitative","axis":null},"text":{"field":"label"}}}
],"resolve":{"axis":{"x":"independent","y":"independent"}}},
{"layer":[
 {"data":{"values":[{}]},"mark":{"type":"rect","fill":"#efefef","stroke":"#ebe5a5","strokeWidth":2},"encoding":{"x":{"datum":{"year":2005,"month":3,"date":11,"utc":true},"type":"temporal","scale":{"type":"utc","domain":[{"year":2005,"month":4,"date":13,"utc":true},{"year":2006,"month":1,"date":5,"utc":true}],"range":[426,702],"nice":false},"axis":null},"x2":{"datum":{"year":2006,"month":1,"date":10,"utc":true}},"y":{"datum":269,"type":"quantitative","scale":{"domain":[2,240],"range":[697,501],"nice":false,"zero":false},"axis":null},"y2":{"datum":-28.4}}},
 {"data":{"values":[{}]},"mark":{"type":"rect","fill":"#f6f6f6","stroke":"#333333","strokeWidth":1},"encoding":{"x":{"datum":{"year":2005,"month":3,"date":14,"utc":true},"type":"temporal","axis":null},"x2":{"datum":{"year":2005,"month":6,"date":14,"utc":true}},"y":{"datum":265.5,"type":"quantitative","axis":null},"y2":{"datum":250.9}}},
 {"data":{"values":[{"label":"Ndown:test_date"}]},"mark":{"type":"text","font":"Liberation Sans","fontWeight":"bold","fontSize":9.8,"align":"center","baseline":"middle","color":"#000000"},"encoding":{"x":{"datum":{"year":2005,"month":4,"date":29,"utc":true},"type":"temporal","axis":null},"y":{"datum":258.2,"type":"quantitative","axis":null},"text":{"field":"label"}}},
 {"data":{"values":[{}]},"mark":{"type":"rect","filled":false,"color":"#000000","strokeWidth":1},"encoding":{"x":{"datum":{"year":2005,"month":4,"date":13,"utc":true},"type":"temporal","axis":null},"x2":{"datum":{"year":2006,"month":1,"date":5,"utc":true}},"y":{"datum":2,"type":"quantitative","axis":null},"y2":{"datum":240}}},
 {"data":{"name":"xe"},"mark":{"type":"point","opacity":0},"encoding":{
   "x":{"field":"date","type":"temporal","axis":{"orient":"bottom","offset":-71,"zindex":1,"values":[{"year":2005,"month":5,"date":3,"utc":true},{"year":2005,"month":5,"date":9,"utc":true},{"year":2005,"month":5,"date":15,"utc":true},{"year":2005,"month":5,"date":21,"utc":true},{"year":2005,"month":6,"date":2,"utc":true},{"year":2005,"month":6,"date":8,"utc":true},{"year":2005,"month":6,"date":14,"utc":true},{"year":2005,"month":6,"date":20,"utc":true},{"year":2005,"month":7,"date":2,"utc":true},{"year":2005,"month":7,"date":8,"utc":true},{"year":2005,"month":7,"date":14,"utc":true},{"year":2005,"month":7,"date":20,"utc":true},{"year":2005,"month":8,"date":1,"utc":true},{"year":2005,"month":8,"date":7,"utc":true},{"year":2005,"month":8,"date":13,"utc":true},{"year":2005,"month":8,"date":19,"utc":true},{"year":2005,"month":8,"date":31,"utc":true},{"year":2005,"month":9,"date":6,"utc":true},{"year":2005,"month":9,"date":12,"utc":true},{"year":2005,"month":9,"date":18,"utc":true},{"year":2005,"month":9,"date":30,"utc":true},{"year":2005,"month":10,"date":6,"utc":true},{"year":2005,"month":10,"date":12,"utc":true},{"year":2005,"month":10,"date":18,"utc":true},{"year":2005,"month":10,"date":30,"utc":true},{"year":2005,"month":11,"date":5,"utc":true},{"year":2005,"month":11,"date":11,"utc":true},{"year":2005,"month":11,"date":17,"utc":true},{"year":2005,"month":11,"date":29,"utc":true},{"year":2005,"month":12,"date":5,"utc":true},{"year":2005,"month":12,"date":11,"utc":true},{"year":2005,"month":12,"date":17,"utc":true},{"year":2005,"month":12,"date":29,"utc":true}],"tickSize":-3,"tickColor":"#000000","labels":false,"title":null}},
   "y":{"field":"pe","type":"quantitative","axis":{"orient":"left","offset":-426,"zindex":1,"values":[4,8,12,16,24,28,32,36,44,48,52,56,64,68,72,76,84,88,92,96,104,108,112,116,124,128,132,136,144,148,152,156,164,168,172,176,184,188,192,196,204,208,212,216,224,228,232,236],"tickSize":-3,"tickColor":"#000000","labels":false,"title":null}}}},
 {"data":{"name":"xe"},"mark":{"type":"point","shape":"M-1,0L1,0M0,-1L0,1","filled":false,"color":"#222222","strokeWidth":1,"size":42,"opacity":1},"encoding":{
   "x":{"field":"date","type":"temporal","axis":{"orient":"bottom","offset":-71,"zindex":1,"values":[{"year":2005,"month":4,"date":27,"utc":true},{"year":2005,"month":5,"date":27,"utc":true},{"year":2005,"month":6,"date":26,"utc":true},{"year":2005,"month":7,"date":26,"utc":true},{"year":2005,"month":8,"date":25,"utc":true},{"year":2005,"month":9,"date":24,"utc":true},{"year":2005,"month":10,"date":24,"utc":true},{"year":2005,"month":11,"date":23,"utc":true},{"year":2005,"month":12,"date":23,"utc":true}],"labelExpr":"utcFormat(datum.value, '%d/%m/%y')","tickSize":-6,"tickColor":"#000000","labelFont":"Liberation Sans","labelFontWeight":"bold","labelFontSize":7,"labelColor":"#000000","labelPadding":8,"labelFlush":false,"labelOverlap":false,"title":"Date","titleFont":"Liberation Sans","titleFontSize":9.5,"titleFontWeight":"bold","titleColor":"#000000","titleX":702,"titleY":18,"titleAlign":"right","titleBaseline":"middle","titleAngle":0}},
   "y":{"field":"pe","type":"quantitative","axis":{"orient":"left","offset":-426,"zindex":1,"values":[20,40,60,80,100,120,140,160,180,200,220],"tickSize":-6,"tickColor":"#000000","labelFont":"Liberation Sans","labelFontWeight":"bold","labelFontSize":8,"labelColor":"#000000","labelPadding":9,"labelOverlap":false,"title":"photoelectrons","titleFont":"Liberation Sans","titleFontSize":9,"titleFontWeight":"bold","titleColor":"#000000","titleX":-21,"titleY":502,"titleAngle":270,"titleAlign":"right","titleBaseline":"middle"}}}},
 {"data":{"values":[{"label":"~Xe Purity"}]},"mark":{"type":"text","font":"DejaVu Sans","fontSize":24,"color":"#000000","align":"center","baseline":"alphabetic"},"encoding":{"x":{"datum":{"year":2005,"month":8,"date":18,"hours":17,"utc":true},"type":"temporal","axis":null},"y":{"datum":216.9,"type":"quantitative","axis":null},"text":{"field":"label"}}},
 {"data":{"values":[{}]},"mark":{"type":"rule","color":"#6565a5","strokeWidth":5},"encoding":{"x":{"datum":{"year":2005,"month":12,"date":15,"hours":17,"utc":true},"type":"temporal","axis":null},"y":{"datum":178.7,"type":"quantitative","axis":null},"y2":{"datum":67}}},
 {"data":{"values":[{}]},"mark":{"type":"point","shape":"triangle-up","filled":true,"color":"#6565a5","size":225,"opacity":1},"encoding":{"x":{"datum":{"year":2005,"month":12,"date":15,"hours":17,"utc":true},"type":"temporal","axis":null},"y":{"datum":178.7,"type":"quantitative","axis":null}}},
 {"data":{"values":[{}]},"mark":{"type":"point","shape":"triangle-down","filled":true,"color":"#6565a5","size":225,"opacity":1},"encoding":{"x":{"datum":{"year":2005,"month":12,"date":15,"hours":17,"utc":true},"type":"temporal","axis":null},"y":{"datum":67,"type":"quantitative","axis":null}}},
 {"data":{"values":[{"label":"~3"}]},"mark":{"type":"text","font":"DejaVu Sans","fontWeight":"bold","fontSize":16,"color":"#6565a5","align":"left","baseline":"alphabetic"},"encoding":{"x":{"datum":{"year":2005,"month":11,"date":10,"hours":22,"utc":true},"type":"temporal","axis":null},"y":{"datum":89.4,"type":"quantitative","axis":null},"text":{"field":"label"}}}
],"resolve":{"axis":{"x":"independent","y":"independent"}}},
{"layer":[
 {"data":{"values":[{}]},"mark":{"type":"rect","filled":false,"color":"#000000","strokeWidth":1},"encoding":{"x":{"datum":0,"type":"quantitative","scale":{"domain":[0,10],"range":[765,980],"nice":false,"zero":false},"axis":null},"x2":{"datum":10},"y":{"datum":0,"type":"quantitative","scale":{"domain":[0,2],"range":[395,186],"nice":false,"zero":false},"axis":null},"y2":{"datum":2}}},
 {"data":{"name":"zener"},"mark":{"type":"point","opacity":0},"encoding":{
   "x":{"field":"current","type":"quantitative","axis":{"orient":"top","offset":-186,"zindex":1,"values":[0,1,2,3,4,5,6,7,8,9,10],"tickSize":-6,"tickColor":"#000000","labels":false,"title":null}},
   "y":{"field":"ratio","type":"quantitative","axis":{"orient":"right","offset":-44,"zindex":1,"values":[0,0.2,0.4,0.6,0.8,1,1.2,1.4,1.6,1.8,2],"tickSize":-6,"tickColor":"#000000","labels":false,"title":null}}}},
 {"data":{"name":"zener"},"mark":{"type":"point","filled":true,"size":12,"opacity":1},"encoding":{
   "x":{"field":"current","type":"quantitative","axis":{"orient":"bottom","offset":-373,"zindex":1,"values":[0,1,2,3,4,5,6,7,8,9,10],"tickSize":-6,"tickColor":"#000000","labelFont":"Liberation Sans","labelFontSize":10.5,"labelColor":"#222222","labelPadding":10,"labelFlush":false,"labelOverlap":false,"title":"Anodic Current (μA)","titleFont":"Liberation Sans","titleFontSize":14,"titleFontWeight":"normal","titleColor":"#222222","titleX":980,"titleY":29,"titleAlign":"right","titleBaseline":"alphabetic","titleAngle":0}},
   "y":{"field":"ratio","type":"quantitative","axis":{"orient":"left","offset":-765,"zindex":1,"values":[0,0.2,0.4,0.6,0.8,1,1.2,1.4,1.6,1.8,2],"format":"~g","tickSize":-6,"tickColor":"#000000","labelFont":"Liberation Sans","labelFontSize":10.5,"labelColor":"#222222","labelPadding":14,"labelOverlap":false,"title":"Overlinearity","titleFont":"Liberation Sans","titleFontSize":14,"titleFontWeight":"normal","titleColor":"#222222","titleX":-41,"titleY":187,"titleAngle":270,"titleAlign":"right","titleBaseline":"middle"}},
   "color":{"field":"pmt","type":"nominal","scale":{"domain":["ZA1980 PMT","ZA2068 PMT"],"range":["#000000","#ee1111"]},"legend":{"orient":"none","legendX":891,"legendY":337,"title":null,"labelFont":"Liberation Sans","labelFontSize":11,"labelColor":"#222222","symbolSize":14,"rowPadding":5.7,"labelOffset":4,"padding":0}},
   "shape":{"field":"pmt","type":"nominal","scale":{"domain":["ZA1980 PMT","ZA2068 PMT"],"range":["circle","cross"]}}}},
 {"data":{"values":[{"label":"No zener"}]},"mark":{"type":"text","font":"Liberation Serif","fontSize":27,"color":"#b0a24e","align":"left","baseline":"alphabetic","dx":2,"dy":2},"encoding":{"x":{"datum":0.15,"type":"quantitative","axis":null},"y":{"datum":1.237,"type":"quantitative","axis":null},"text":{"field":"label"}}},
 {"data":{"values":[{"label":"No zener"}]},"mark":{"type":"text","font":"Liberation Serif","fontSize":27,"color":"#000000","align":"left","baseline":"alphabetic"},"encoding":{"x":{"datum":0.15,"type":"quantitative","axis":null},"y":{"datum":1.237,"type":"quantitative","axis":null},"text":{"field":"label"}}},
 {"data":{"values":[{"label":"with zener"}]},"mark":{"type":"text","font":"Liberation Serif","fontSize":26.6,"color":"#a89a4e","align":"left","baseline":"alphabetic","dx":2,"dy":2},"encoding":{"x":{"datum":-0.245,"type":"quantitative","axis":null},"y":{"datum":0.622,"type":"quantitative","axis":null},"text":{"field":"label"}}},
 {"data":{"values":[{"label":"with zener"}]},"mark":{"type":"text","font":"Liberation Serif","fontSize":26.6,"color":"#cc0000","align":"left","baseline":"alphabetic"},"encoding":{"x":{"datum":-0.245,"type":"quantitative","axis":null},"y":{"datum":0.622,"type":"quantitative","axis":null},"text":{"field":"label"}}}
],"resolve":{"axis":{"x":"independent","y":"independent"}}},
{"layer":[
 {"data":{"values":[{}]},"mark":{"type":"rect","filled":false,"color":"#000000","strokeWidth":1},"encoding":{"x":{"datum":0,"type":"quantitative","scale":{"domain":[0,3000],"range":[772,991],"nice":false,"zero":false},"axis":null},"x2":{"datum":3000},"y":{"datum":0,"type":"quantitative","scale":{"domain":[0,2],"range":[715,495],"nice":false,"zero":false},"axis":null},"y2":{"datum":2}}},
 {"data":{"name":"qe"},"mark":{"type":"point","opacity":0},"encoding":{
   "x":{"field":"adc","type":"quantitative","axis":{"orient":"top","offset":-495,"zindex":1,"values":[0,500,1000,1500,2000,2500,3000],"tickSize":-6,"tickColor":"#000000","labels":false,"title":null}},
   "y":{"field":"relqe","type":"quantitative","axis":{"orient":"right","offset":-33,"zindex":1,"values":[0,0.2,0.4,0.6,0.8,1,1.2,1.4,1.6,1.8,2],"tickSize":-6,"tickColor":"#000000","labels":false,"title":null}}}},
 {"data":{"name":"qe"},"mark":{"type":"point","shape":"cross","filled":true,"color":"#ee1111","size":12,"opacity":1},"encoding":{
   "x":{"field":"adc","type":"quantitative","axis":{"orient":"bottom","offset":-53,"zindex":1,"values":[0,500,1000,1500,2000,2500,3000],"format":"d","tickSize":-6,"tickColor":"#000000","labelFont":"Liberation Sans","labelFontSize":10,"labelColor":"#222222","labelPadding":9,"labelFlush":false,"labelOverlap":false,"title":"Ref. ADC","titleFont":"Liberation Sans","titleFontSize":14,"titleFontWeight":"normal","titleColor":"#222222","titleX":991,"titleY":30,"titleAlign":"right","titleBaseline":"alphabetic","titleAngle":0}},
   "y":{"field":"relqe","type":"quantitative","axis":{"orient":"left","offset":-772,"zindex":1,"values":[0,0.2,0.4,0.6,0.8,1,1.2,1.4,1.6,1.8,2],"format":"~g","tickSize":-6,"tickColor":"#000000","labelFont":"Liberation Sans","labelFontSize":10,"labelColor":"#222222","labelPadding":15,"labelOverlap":false,"title":"Relative QE","titleFont":"Liberation Sans","titleFontSize":14,"titleFontWeight":"normal","titleColor":"#222222","titleX":-44,"titleY":498,"titleAngle":270,"titleAlign":"right","titleBaseline":"middle"}}}},
 {"data":{"values":[{"label":"ZA1985"}]},"mark":{"type":"text","font":"Liberation Serif","fontSize":25,"color":"#c6b36c","align":"center","baseline":"alphabetic","dx":2,"dy":2},"encoding":{"x":{"datum":1562,"type":"quantitative","axis":null},"y":{"datum":1.688,"type":"quantitative","axis":null},"text":{"field":"label"}}},
 {"data":{"values":[{"label":"ZA1985"}]},"mark":{"type":"text","font":"Liberation Serif","fontSize":25,"color":"#1b2a8e","align":"center","baseline":"alphabetic"},"encoding":{"x":{"datum":1562,"type":"quantitative","axis":null},"y":{"datum":1.688,"type":"quantitative","axis":null},"text":{"field":"label"}}},
 {"data":{"values":[{"label":"5.6% rms"}]},"mark":{"type":"text","font":"Liberation Sans","fontSize":10.3,"color":"#222222","align":"center","baseline":"alphabetic"},"encoding":{"x":{"datum":1548,"type":"quantitative","axis":null},"y":{"datum":1.394,"type":"quantitative","axis":null},"text":{"field":"label"}}},
 {"data":{"values":[{}]},"mark":{"type":"rule","color":"#808080","strokeWidth":1},"encoding":{"x":{"datum":1502,"type":"quantitative","axis":null},"y":{"datum":1.303,"type":"quantitative","axis":null},"y2":{"datum":1.11}}},
 {"data":{"values":[{}]},"mark":{"type":"point","shape":"M-0.5,-1L0,0L0.5,-1","filled":false,"color":"#808080","strokeWidth":1,"size":196,"opacity":1},"encoding":{"x":{"datum":1502,"type":"quantitative","axis":null},"y":{"datum":1.106,"type":"quantitative","axis":null}}},
 {"data":{"values":[{}]},"mark":{"type":"rule","color":"#808080","strokeWidth":1},"encoding":{"x":{"datum":1502,"type":"quantitative","axis":null},"y":{"datum":0.591,"type":"quantitative","axis":null},"y2":{"datum":0.785}}},
 {"data":{"values":[{}]},"mark":{"type":"point","shape":"M-0.5,1L0,0L0.5,1","filled":false,"color":"#808080","strokeWidth":1,"size":196,"opacity":1},"encoding":{"x":{"datum":1502,"type":"quantitative","axis":null},"y":{"datum":0.788,"type":"quantitative","axis":null}}},
 {"data":{"values":[{}]},"mark":{"type":"rule","color":"#c6b36c","strokeWidth":4},"encoding":{"x":{"datum":985,"type":"quantitative","axis":null},"x2":{"datum":2604},"y":{"datum":0.782,"type":"quantitative","axis":null}}},
 {"data":{"values":[{}]},"mark":{"type":"point","shape":"triangle-left","filled":true,"color":"#c6b36c","size":144,"opacity":1},"encoding":{"x":{"datum":985,"type":"quantitative","axis":null},"y":{"datum":0.782,"type":"quantitative","axis":null}}},
 {"data":{"values":[{}]},"mark":{"type":"point","shape":"triangle-right","filled":true,"color":"#c6b36c","size":144,"opacity":1},"encoding":{"x":{"datum":2604,"type":"quantitative","axis":null},"y":{"datum":0.782,"type":"quantitative","axis":null}}},
 {"data":{"values":[{}]},"mark":{"type":"rule","color":"#1b2a8e","strokeWidth":4},"encoding":{"x":{"datum":944,"type":"quantitative","axis":null},"x2":{"datum":2563},"y":{"datum":0.809,"type":"quantitative","axis":null}}},
 {"data":{"values":[{}]},"mark":{"type":"point","shape":"triangle-left","filled":true,"color":"#1b2a8e","size":144,"opacity":1},"encoding":{"x":{"datum":944,"type":"quantitative","axis":null},"y":{"datum":0.809,"type":"quantitative","axis":null}}},
 {"data":{"values":[{}]},"mark":{"type":"point","shape":"triangle-right","filled":true,"color":"#1b2a8e","size":144,"opacity":1},"encoding":{"x":{"datum":2563,"type":"quantitative","axis":null},"y":{"datum":0.809,"type":"quantitative","axis":null}}},
 {"data":{"values":[{"label":"different Xe purity"}]},"mark":{"type":"text","font":"Liberation Serif","fontSize":18.3,"color":"#c6b36c","align":"center","baseline":"alphabetic","dx":2,"dy":2},"encoding":{"x":{"datum":1822,"type":"quantitative","axis":null},"y":{"datum":0.433,"type":"quantitative","axis":null},"text":{"field":"label"}}},
 {"data":{"values":[{"label":"different Xe purity"}]},"mark":{"type":"text","font":"Liberation Serif","fontSize":18.3,"color":"#1b2a8e","align":"center","baseline":"alphabetic"},"encoding":{"x":{"datum":1822,"type":"quantitative","axis":null},"y":{"datum":0.433,"type":"quantitative","axis":null},"text":{"field":"label"}}}
],"resolve":{"axis":{"x":"independent","y":"independent"}}}
]
}
